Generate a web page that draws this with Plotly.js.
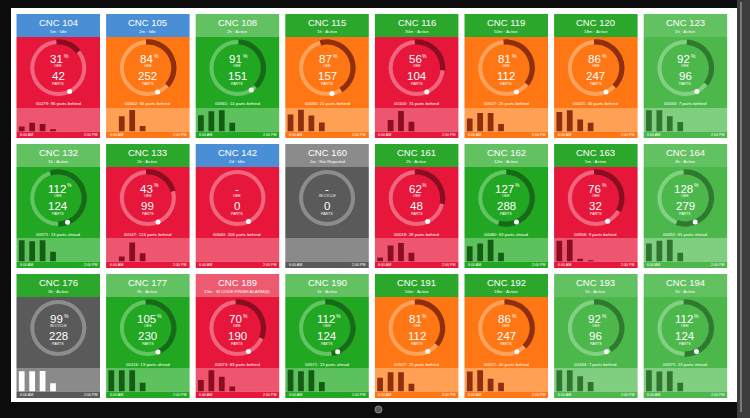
<!DOCTYPE html>
<html><head><meta charset="utf-8">
<script src="https://cdn.plot.ly/plotly-3.0.1.min.js"></script>
<style>html,body{margin:0;padding:0;background:#0d0d0d}#chart{width:750px;height:418px}</style>
</head><body><div id="chart"></div>
<script>
// ---------------- DATA ----------------
const machines = ['CNC 104','CNC 105','CNC 108','CNC 115','CNC 116','CNC 119','CNC 120','CNC 123',
  'CNC 132','CNC 133','CNC 142','CNC 160','CNC 161','CNC 162','CNC 163','CNC 164',
  'CNC 176','CNC 177','CNC 189','CNC 190','CNC 191','CNC 192','CNC 193','CNC 194'];
const statusText = ['5m · Idle','2m · Idle','2h · Active','1h · Active','30m · Active','50m · Active','18m · Active','1h · Active',
  '1h · Active','2h · Active','2d · Idle','2w · Not Reported','2h · Active','12m · Active','5m · Active','4h · Active',
  '3h · Active','3h · Active','13m · M CODE FINISH ALARM(4)','1h · Active','50m · Active','18m · Active','1h · Active','1h · Active'];
const headerTone = ['blue','blue','lgreen','green','green','green','green','lgreen',
  'lgreen','green','blue','gray','green','lgreen','green','lgreen',
  'green','lgreen','pink','lgreen','green','green','lgreen','lgreen'];
const bodyTone = ['red','orange','green','orange','red','orange','orange','lgreen',
  'green','red','red','gray','red','green','red','lgreen',
  'gray','green','red','green','orange','orange','lgreen','lgreen'];
const oeeValue = ['31','84','91','87','56','81','86','92',
  '112','43','-','-','62','127','76','128',
  '99','105','70','112','81','86','92','112'];
const oeeLabel = ['OEE','OEE','OEE','OEE','OEE','OEE','OEE','OEE',
  'OEE','OEE','OEE','IN CYCLE','OEE','OEE','OEE','OEE',
  'IN CYCLE','OEE','OEE','OEE','OEE','OEE','OEE','OEE'];
const partsCount = [42,252,151,157,104,112,247,96,
  124,99,0,0,48,288,32,279,
  228,230,190,124,112,247,96,124];
const deltaText = ['00279: 95 parts behind','00002: 55 parts behind','00561: 14 parts behind','00030: 21 parts behind','00100: 74 parts behind','00527: 25 parts behind','00021: 40 parts behind','00434: 7 parts behind',
  '00571: 13 parts ahead','00147: 124 parts behind','00640: 206 parts behind','','00018: 28 parts behind','00080: 63 parts ahead','00556: 9 parts behind','00052: 61 parts ahead',
  '','00116: 13 parts ahead','00073: 83 parts behind','00571: 13 parts ahead','00527: 25 parts behind','00021: 40 parts behind','00434: 7 parts behind','00571: 13 parts ahead'];
// gauge arc, degrees clockwise from 12 o'clock
const arcStart = [-4,-4,2,-15,-4,-6,-4,3, -18,-4,null,null,-4,0,-4,-4, null,-5,-4,-4,-4,-4,-4,-4];
const arcEnd   = [51,132,136,148,95,128,135,128, 180,75,null,null,103,197,120,200, null,157,113,170,130,136,147,182];
const targetAngle = [154,158,148,169,157,157,157,154, 159,157,155,null,155,157,153,158, null,157,155,156,155,156,156,155];
// hourly output bars (6 AM .. 10 AM slots)
const hourSlots = [0.5,1.5,2.5,3.5];
const hourlyParts = [
  [5,9,7.7,2.3],[0,15.7,22,5.7],[16.7,20.7,21.7,9],[17.3,22.3,16.3,9.3],
  [0,11.7,21,10],[13.3,19,19,7.7],[20,21.7,12.3,9],[21.7,21.7,15.7,9.7],
  [21.7,20.7,21.7,10],[0,5,19.3,8.3],[],[],
  [4,16.3,19,9],[15.7,18.3,22.3,9],[21.3,22.3,2.7,1.3],[18.3,21.3,22.3,9],
  [20.7,20.7,21,8.3],[21.7,21.7,21.7,9],[11.7,21.7,15,5],[22.3,20.7,21.7,9.7],
  [14,19.7,19.7,8],[20.3,21.7,13,9],[21.7,21.7,15.7,9.7],[21.7,20.3,20.7,9]];
const axisStart = '6:00 AM', axisEnd = '2:00 PM';

// ---------------- STYLE ----------------
const headerColors = {blue:'#4a8fd6', green:'#2ba82b', lgreen:'#62c262', pink:'#ee5a70', gray:'#8b8b8b'};
const tones = {
  red:    {body:'#e6173a', area:'#ee5670', track:'#f0667e', arc:'#8a0d20', bar:'#8a0d20'},
  orange: {body:'#ff7614', area:'#ffa055', track:'#ffa35c', arc:'#8e2f10', bar:'#8e2f10'},
  green:  {body:'#22a722', area:'#5dc25d', track:'#62c562', arc:'#176a17', bar:'#155d15'},
  lgreen: {body:'#4cb84c', area:'#80cf80', track:'#82d182', arc:'#2f7a2f', bar:'#2f742f'},
  gray:   {body:'#5a5a5a', area:'#8a8a8a', track:'#8c8c8c', arc:'#8c8c8c', bar:'#ffffff'}
};
const W = 750, H = 418;
const FONT = 'Liberation Sans, Arial, sans-serif';
const BIG = 11.5, DIGIT_W = 0.556 * BIG;
const px = v => v / W, py = v => 1 - v / H;

const traces = [], shapes = [], annotations = [];
const layout = {width:W, height:H, margin:{l:0,r:0,t:0,b:0}, paper_bgcolor:'#0c0c0c',
  plot_bgcolor:'rgba(0,0,0,0)', showlegend:false, shapes, annotations};

// monitor screen + bezel
shapes.push({type:'rect', xref:'paper', yref:'paper', x0:px(11), x1:px(737), y0:py(402), y1:py(8),
  fillcolor:'#ffffff', line:{width:0}, layer:'below'});
shapes.push({type:'rect', xref:'paper', yref:'paper', x0:px(737), x1:px(750), y0:0, y1:1,
  fillcolor:'#3c3c3c', line:{width:0}, layer:'below'});
shapes.push({type:'line', xref:'paper', yref:'paper', x0:px(741), x1:px(741), y0:py(412), y1:py(2),
  line:{color:'#8e8e8e', width:1.5}, layer:'below'});
shapes.push({type:'circle', xref:'paper', yref:'paper', x0:px(375), x1:px(382), y0:py(413), y1:py(406),
  fillcolor:'#5a5a5a', line:{color:'#9a9a9a', width:0.8}, layer:'below'});

const TW = 83.5, PITCH_X = 89.6, PITCH_Y = 130;
machines.forEach((name, i) => {
  const r = Math.floor(i / 8), c = i % 8;
  const L = 16.5 + c * PITCH_X, T = 14 + r * PITCH_Y, R = L + TW, cx = L + TW / 2;
  const tone = tones[bodyTone[i]];
  const rect = (y0, y1, col) => shapes.push({type:'rect', xref:'paper', yref:'paper',
    x0:px(L), x1:px(R), y0:py(y1), y1:py(y0), fillcolor:col, line:{width:0}, layer:'below'});
  rect(T, T + 23, headerColors[headerTone[i]]);
  rect(T + 23, T + 94, tone.body);
  rect(T + 94, T + 117.5, tone.area);
  rect(T + 117.5, T + 124, tone.body);

  const ann = (y, text, size, extra) => annotations.push(Object.assign({xref:'paper', yref:'paper',
    x:px(cx), y:py(y), text, showarrow:false, xanchor:'center', yanchor:'middle',
    font:{family:FONT, size, color:'#ffffff'}}, extra || {}));
  ann(T + 8.5, name, 9.5);
  ann(T + 17.5, statusText[i], 4.3);
  const ov = oeeValue[i];
  if (ov === '-') {
    ann(T + 45, '-', BIG);
  } else {
    const nx = cx - 1.5;
    ann(T + 45, ov, BIG, {x:px(nx)});
    ann(T + 41.5, '%', 5, {x:px(nx + ov.length * DIGIT_W / 2 - 1.2), xanchor:'left'});
  }
  ann(T + 52, oeeLabel[i], 3.6);
  ann(T + 62, String(partsCount[i]), BIG);
  ann(T + 69.5, 'PARTS', 3.6);
  if (deltaText[i]) ann(T + 90, deltaText[i], 4.4);
  ann(T + 121, axisStart, 3.6, {x:px(L + 1.5), xanchor:'left'});
  ann(T + 121, axisEnd, 3.6, {x:px(R - 1.5), xanchor:'right'});

  // hourly bars
  const sx = i ? String(i + 1) : '';
  layout['xaxis' + sx] = {domain:[px(L), px(R)], range:[0, 8], visible:false, fixedrange:true,
    anchor:'y' + sx};
  layout['yaxis' + sx] = {domain:[py(T + 117.5), py(T + 94)], range:[0, 24], visible:false,
    fixedrange:true, anchor:'x' + sx};
  traces.push({type:'bar', x:hourSlots.slice(0, hourlyParts[i].length), y:hourlyParts[i], width:0.55,
    marker:{color:tone.bar, line:{width:0}}, xaxis:'x' + sx, yaxis:'y' + sx, hoverinfo:'skip'});

  // gauge
  const gy = T + 54, gr = 30;
  const pid = 'polar' + sx;
  layout[pid] = {domain:{x:[px(cx - gr), px(cx + gr)], y:[py(gy + gr), py(gy - gr)]},
    bgcolor:'rgba(0,0,0,0)', angularaxis:{visible:false, rotation:90, direction:'clockwise'},
    radialaxis:{visible:false, range:[0, 1]}};
  traces.push({type:'barpolar', subplot:pid, theta:[180], width:[360], base:[0.8], r:[0.135],
    marker:{color:tone.track, line:{width:0}}, hoverinfo:'skip'});
  if (arcStart[i] !== null) {
    traces.push({type:'barpolar', subplot:pid, theta:[(arcStart[i] + arcEnd[i]) / 2],
      width:[arcEnd[i] - arcStart[i]], base:[0.78], r:[0.175],
      marker:{color:tone.arc, line:{width:0}}, hoverinfo:'skip'});
  }
  if (targetAngle[i] !== null) {
    traces.push({type:'scatterpolar', subplot:pid, mode:'markers', theta:[targetAngle[i]], r:[0.867],
      marker:{color:'#ffffff', size:5, line:{width:0}}, hoverinfo:'skip'});
  }
});

Plotly.newPlot('chart', traces, layout, {staticPlot:true, displayModeBar:false});
</script></body></html>
